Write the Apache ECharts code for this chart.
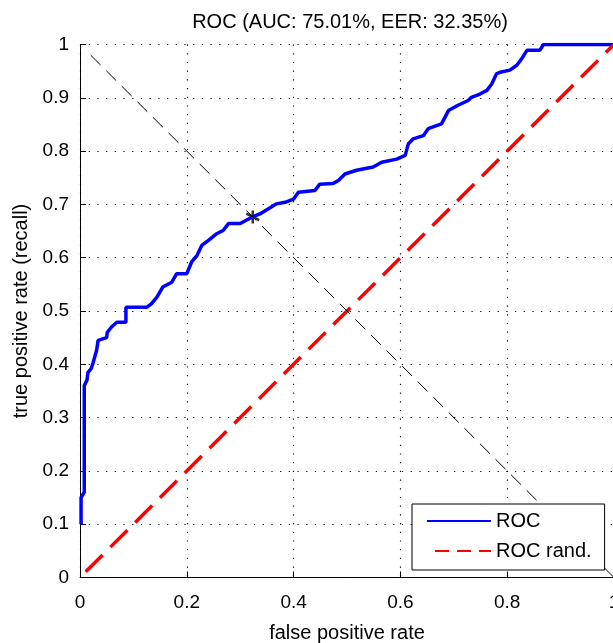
<!DOCTYPE html>
<html>
<head>
<meta charset="utf-8">
<script src="https://cdn.jsdelivr.net/npm/echarts@6/dist/echarts.min.js"></script>
<style>
html,body{margin:0;padding:0;background:#fff;}
#c{width:613px;height:643px;}
</style>
</head>
<body>
<div id="c"></div>
<script>
const titleText = 'ROC (AUC: 75.01%, EER: 32.35%)';
const xName = 'false positive rate';
const yName = 'true positive rate (recall)';
const rocX = [0.002,0.002,0.008,0.008,0.013,0.015,0.021,0.024,0.031,0.034,0.05,0.051,0.059,0.069,0.086,0.086,0.125,0.134,0.144,0.155,0.172,0.181,0.2,0.209,0.219,0.228,0.24,0.256,0.268,0.278,0.3,0.322,0.337,0.353,0.368,0.384,0.4,0.409,0.44,0.449,0.474,0.484,0.496,0.518,0.549,0.565,0.593,0.609,0.615,0.624,0.643,0.652,0.677,0.69,0.708,0.727,0.733,0.749,0.762,0.771,0.78,0.787,0.805,0.818,0.827,0.837,0.861,0.868,1.0];
const rocY = [0.1,0.15,0.16,0.36,0.37,0.385,0.392,0.401,0.426,0.445,0.45,0.46,0.47,0.479,0.479,0.507,0.507,0.514,0.526,0.545,0.554,0.57,0.57,0.592,0.604,0.623,0.632,0.645,0.651,0.664,0.664,0.676,0.682,0.692,0.701,0.704,0.71,0.723,0.726,0.738,0.739,0.745,0.757,0.764,0.77,0.779,0.785,0.792,0.814,0.823,0.829,0.842,0.851,0.876,0.886,0.895,0.901,0.907,0.914,0.926,0.945,0.948,0.952,0.961,0.973,0.989,0.989,1.0,1.0];
const randX = [0, 1];
const randY = [0, 1];
const eerLineX = [0.02, 1];
const eerLineY = [0.98, 0];
const eerPoint = [0.3235, 0.6765];
const seriesNames = ['ROC', 'ROC rand.'];

const FONT = 'Liberation Sans, Arial, Helvetica, sans-serif';
const zip = (a, b) => a.map((v, i) => [v, b[i]]);

const chart = echarts.init(document.getElementById('c'), null, {renderer: 'canvas'});
const axisCommon = {
  type: 'value', min: 0, max: 1,
  axisLine: {show: true, lineStyle: {color: '#000', width: 1}},
  axisTick: {show: true, inside: true, length: 6, lineStyle: {color: '#000'}},
  axisLabel: {color: '#000', fontSize: 19, fontFamily: FONT},
  splitLine: {show: true, lineStyle: {color: '#000', width: 1.2, type: [1.2, 7.5]}},
  nameLocation: 'middle',
  nameTextStyle: {color: '#000', fontSize: 20, fontFamily: FONT}
};
chart.setOption({
  animation: false,
  backgroundColor: '#fff',
  title: {
    text: titleText, left: 345, top: 7, textAlign: 'center',
    textStyle: {color: '#000', fontSize: 20, fontWeight: 'normal', fontFamily: FONT}
  },
  grid: {left: 80, top: 44.5, width: 534, height: 533, containLabel: false, outerBoundsMode: 'none'},
  xAxis: Object.assign({}, axisCommon, {
    interval: 0.2, name: xName, nameGap: 46,
    axisLabel: Object.assign({}, axisCommon.axisLabel, {margin: 16})
  }),
  yAxis: Object.assign({}, axisCommon, {
    interval: 0.1, name: yName, nameGap: 47,
    axisLabel: Object.assign({}, axisCommon.axisLabel, {margin: 11})
  }),
  legend: {
    orient: 'vertical', left: 412, top: 504,
    backgroundColor: '#fff', borderColor: '#000', borderWidth: 1, borderRadius: 0,
    padding: [7, 13, 9, 14], itemGap: 10, itemWidth: 64, itemHeight: 14,
    itemStyle: {opacity: 0},
    textStyle: {color: '#000', fontSize: 20, fontFamily: FONT},
    data: [
      {name: seriesNames[0]},
      {name: seriesNames[1], lineStyle: {type: [14, 8]}}
    ]
  },
  series: [
    {
      name: seriesNames[0], type: 'line', data: zip(rocX, rocY),
      symbol: 'none', clip: true,
      lineStyle: {color: '#0000ff', width: 3.5}, itemStyle: {color: '#0000ff'}
    },
    {
      name: seriesNames[1], type: 'line', data: zip(randX, randY),
      symbol: 'none', clip: true,
      lineStyle: {color: '#ff0000', width: 3.5, type: [24, 11], dashOffset: -8}, itemStyle: {color: '#ff0000'}
    },
    {
      name: 'eer', type: 'line', data: zip(eerLineX, eerLineY),
      symbol: 'none', clip: true, silent: true,
      lineStyle: {color: '#000', width: 1, type: [14, 8]}
    },
    {
      name: 'eerpt', type: 'scatter', data: [eerPoint],
      symbol: 'path://M0,-6L0,6M-5.2,-3L5.2,3M-5.2,3L5.2,-3',
      symbolSize: 13,
      itemStyle: {color: 'none', borderColor: '#000', borderWidth: 2.5}
    }
  ]
});
</script>
</body>
</html>
